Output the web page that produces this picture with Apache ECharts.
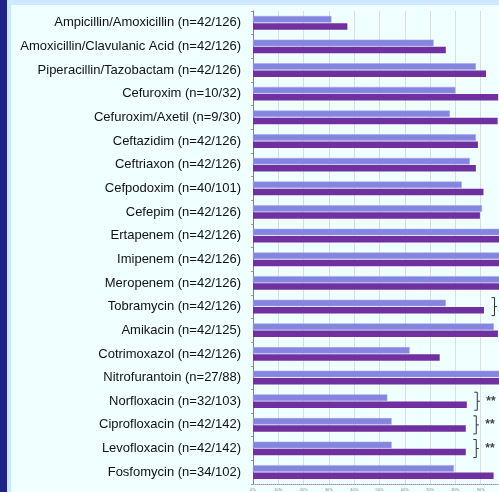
<!DOCTYPE html>
<html>
<head>
<meta charset="utf-8">
<script src="https://cdn.jsdelivr.net/npm/echarts@6/dist/echarts.min.js"></script>
<style>
  html, body { margin: 0; padding: 0; }
  body { width: 499px; height: 492px; overflow: hidden; background: #cce8ff; position: relative; }
  #edge { position: absolute; left: 0; top: 0; width: 7px; height: 492px; background: #1f2388; }
  #chart { position: absolute; left: 11px; top: 5px; width: 540px; height: 487px; background: #f0ffff; }
</style>
</head>
<body>
<div id="edge"></div>
<div id="chart"></div>
<script>
var categories = [
  'Ampicillin/Amoxicillin (n=42/126)',
  'Amoxicillin/Clavulanic Acid (n=42/126)',
  'Piperacillin/Tazobactam (n=42/126)',
  'Cefuroxim (n=10/32)',
  'Cefuroxim/Axetil (n=9/30)',
  'Ceftazidim (n=42/126)',
  'Ceftriaxon (n=42/126)',
  'Cefpodoxim (n=40/101)',
  'Cefepim (n=42/126)',
  'Ertapenem (n=42/126)',
  'Imipenem (n=42/126)',
  'Meropenem (n=42/126)',
  'Tobramycin (n=42/126)',
  'Amikacin (n=42/125)',
  'Cotrimoxazol (n=42/126)',
  'Nitrofurantoin (n=27/88)',
  'Norfloxacin (n=32/103)',
  'Ciprofloxacin (n=42/142)',
  'Levofloxacin (n=42/142)',
  'Fosfomycin (n=34/102)'
];
// percent susceptible, first group (light bars) and second group (dark bars)
var groupA = [31.0, 71.4, 88.1, 80.0, 77.8, 88.1, 85.7, 82.5, 90.5, 100, 100, 100, 76.2, 95.2, 61.9, 100, 53.1, 54.8, 54.8, 79.4];
var groupB = [37.3, 76.2, 92.1, 96.9, 96.7, 88.9, 88.1, 91.1, 89.7, 100, 100, 100, 91.3, 96.8, 73.8, 100, 84.5, 84.1, 84.1, 95.1];
var xTicks = [0, 10, 20, 30, 40, 50, 60, 70, 80, 90, 100];
// rows marked with a significance bracket
var marked = [12, 16, 17, 18, 19];
var markText = '**';

var chart = echarts.init(document.getElementById('chart'), null, { renderer: 'canvas' });
chart.setOption({
  animation: false,
  backgroundColor: '#f0ffff',
  grid: { left: 242, top: 6, width: 253, height: 473.5, containLabel: false },
  xAxis: {
    type: 'value',
    min: xTicks[0],
    max: xTicks[xTicks.length - 1],
    interval: 10,
    axisLine: { show: true, lineStyle: { color: '#999', type: 'dotted', width: 1 } },
    axisTick: { show: false },
    axisLabel: { color: '#888', fontSize: 4, margin: 4, formatter: '{value}%' },
    splitLine: { show: true, lineStyle: { color: '#dcdcdc', width: 1 } }
  },
  yAxis: {
    type: 'category',
    inverse: true,
    data: categories,
    axisLine: { lineStyle: { color: '#808080', width: 1 } },
    axisTick: { show: true, length: 2, lineStyle: { color: '#999' } },
    axisLabel: { color: '#111', fontSize: 13, fontFamily: 'Liberation Sans, Arial, sans-serif', margin: 12 }
  },
  series: [
    {
      type: 'bar', data: groupA, barWidth: 6.5, barGap: '10%',
      itemStyle: { color: '#8585e0', borderColor: '#a4a4ee', borderWidth: 0.5 }
    },
    {
      type: 'bar', data: groupB, barWidth: 6.5, barGap: '10%',
      itemStyle: { color: '#7030a0' }
    }
  ]
});

var graphics = [];
marked.forEach(function(i) {
  var xv = chart.convertToPixel({ xAxisIndex: 0 }, Math.max(groupA[i], groupB[i])) + 10.5;
  var yc = chart.convertToPixel({ yAxisIndex: 0 }, categories[i]);
  var h = i === 19 ? 11 : 9;
  graphics.push({
    type: 'polyline',
    shape: { points: [[xv - 3, yc - h], [xv, yc - h], [xv, yc + h], [xv - 3, yc + h]] },
    style: { stroke: '#333', lineWidth: 1, fill: null }
  });
  graphics.push({
    type: 'line',
    shape: { x1: xv, y1: yc, x2: xv + 2.5, y2: yc },
    style: { stroke: '#333', lineWidth: 1 }
  });
  graphics.push({
    type: 'text',
    x: xv + 9, y: yc,
    style: { text: markText, fill: '#444', font: 'bold 12px Liberation Sans, Arial, sans-serif', verticalAlign: 'middle' }
  });
});
chart.setOption({ graphic: graphics });
window.addEventListener('resize', function() { chart.resize(); });
</script>
</body>
</html>
